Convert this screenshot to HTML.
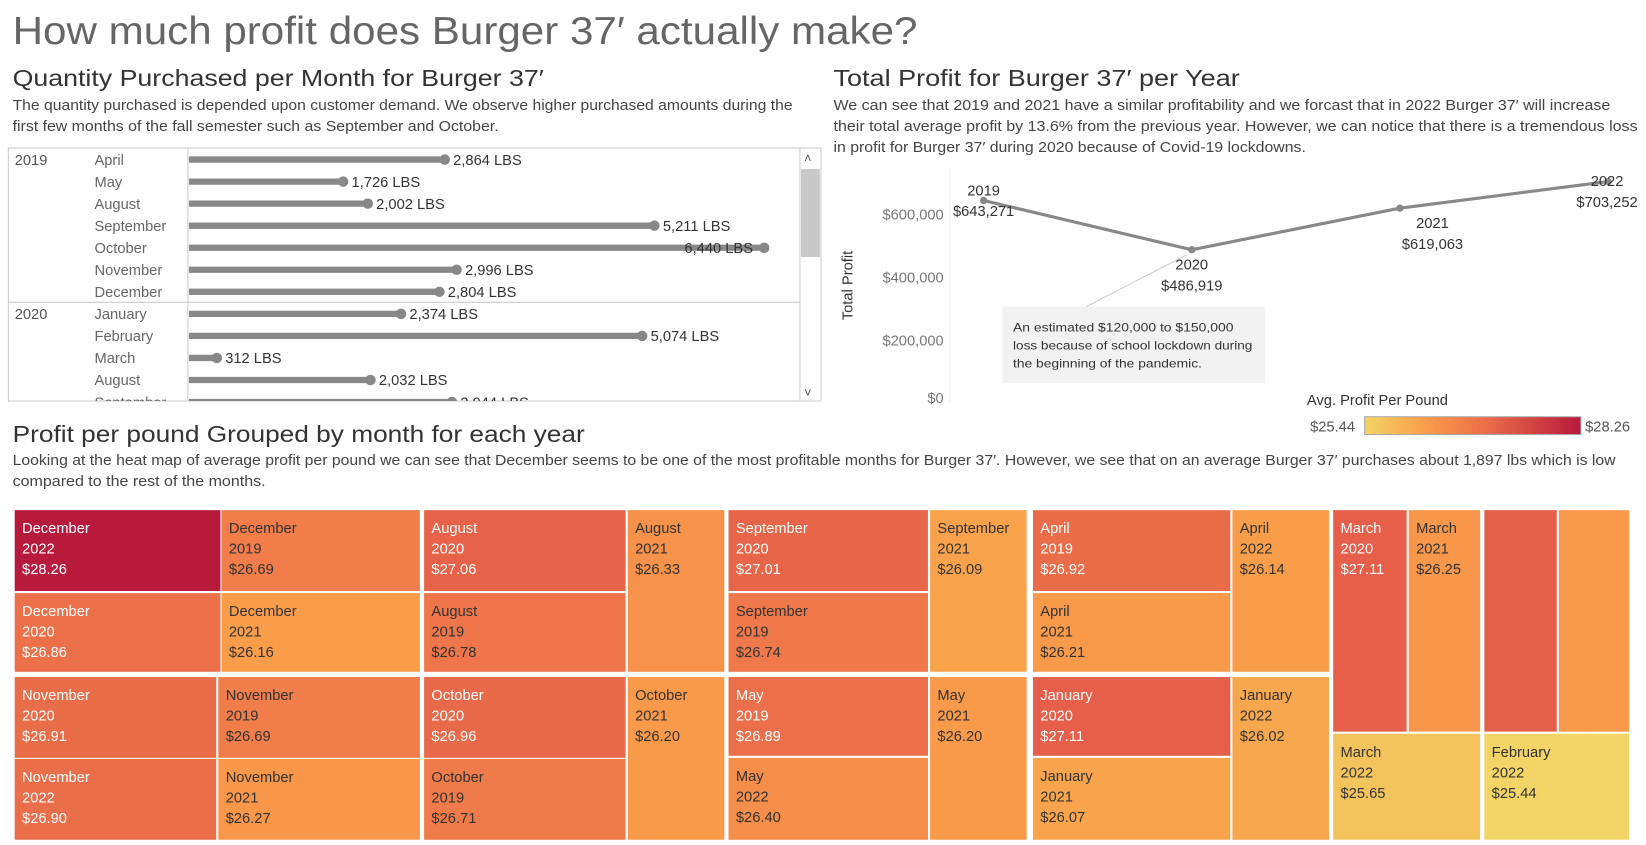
<!DOCTYPE html>
<html><head><meta charset="utf-8"><style>
html,body{margin:0;padding:0;background:#fff;width:1646px;height:845px;overflow:hidden}
svg{display:block;font-family:"Liberation Sans",sans-serif}
</style></head><body>
<svg id="root" width="1646" height="845" viewBox="0 0 1568 805" preserveAspectRatio="none" xmlns="http://www.w3.org/2000/svg">
<text x="12" y="42" font-size="37" fill="#666" textLength="862" lengthAdjust="spacingAndGlyphs">How much profit does Burger 37′ actually make?</text>
<text x="12" y="82" font-size="22" fill="#333" textLength="506" lengthAdjust="spacingAndGlyphs">Quantity Purchased per Month for Burger 37′</text>
<g font-size="14" fill="#444" lengthAdjust="spacingAndGlyphs">
<text x="12" y="105" textLength="743" lengthAdjust="spacingAndGlyphs">The quantity purchased is depended upon customer demand. We observe higher purchased amounts during the</text>
<text x="12" y="125" textLength="463" lengthAdjust="spacingAndGlyphs">first few months of the fall semester such as September and October.</text></g>
<text x="794" y="82" font-size="22" fill="#333" textLength="387" lengthAdjust="spacingAndGlyphs">Total Profit for Burger 37′ per Year</text>
<g font-size="14" fill="#444">
<text x="794" y="105" textLength="740" lengthAdjust="spacingAndGlyphs">We can see that 2019 and 2021 have a similar profitability and we forcast that in 2022 Burger 37′ will increase</text>
<text x="794" y="125" textLength="766" lengthAdjust="spacingAndGlyphs">their total average profit by 13.6% from the previous year. However, we can notice that there is a tremendous loss</text>
<text x="794" y="145" textLength="450" lengthAdjust="spacingAndGlyphs">in profit for Burger 37′ during 2020 because of Covid-19 lockdowns.</text></g>

<defs><clipPath id="barclip"><rect x="8" y="141" width="754" height="241"/></clipPath>
<linearGradient id="grad" x1="0" x2="1"><stop offset="0" stop-color="#f3d466"/><stop offset="0.3" stop-color="#f99a4a"/><stop offset="0.55" stop-color="#ec6f4a"/><stop offset="1" stop-color="#b71a3c"/></linearGradient></defs>
<rect x="8" y="141" width="774" height="241" fill="#fff" stroke="#ccc"/>
<g id="bars" clip-path="url(#barclip)"></g>
<g>
<rect x="762" y="141" width="20" height="241" fill="#fff" stroke="#ccc"/>
<rect x="763" y="161" width="18" height="84" fill="#c8c8c8"/>
<text x="766" y="155" font-size="12" fill="#555">˄</text><text x="766" y="378" font-size="12" fill="#555">˅</text></g>

<g id="line"></g>
<g>
<line x1="1130" y1="243" x2="1035" y2="292" stroke="#ccc"/>
<rect x="955" y="292" width="250" height="73" fill="#f2f2f2"/>
<g font-size="11.5" fill="#333"><text x="965" y="316" textLength="210" lengthAdjust="spacingAndGlyphs">An estimated $120,000 to $150,000</text><text x="965" y="333" textLength="228" lengthAdjust="spacingAndGlyphs">loss because of school lockdown during</text><text x="965" y="350" textLength="180" lengthAdjust="spacingAndGlyphs">the beginning of the pandemic.</text></g></g>

<g>
<text x="1245" y="386" font-size="14" fill="#333">Avg. Profit Per Pound</text>
<text x="1248" y="411" font-size="14" fill="#555">$25.44</text>
<rect x="1300" y="397" width="206" height="17" fill="url(#grad)" stroke="#aaa"/>
<text x="1510" y="411" font-size="14" fill="#555">$28.26</text></g>

<text x="12" y="421" font-size="22" fill="#333" textLength="545" lengthAdjust="spacingAndGlyphs">Profit per pound Grouped by month for each year</text>
<g font-size="14" fill="#444">
<text x="12" y="443" textLength="1527" lengthAdjust="spacingAndGlyphs">Looking at the heat map of average profit per pound we can see that December seems to be one of the most profitable months for Burger 37′. However, we see that on an average Burger 37′ purchases about 1,897 lbs which is low</text>
<text x="12" y="463" textLength="241" lengthAdjust="spacingAndGlyphs">compared to the rest of the months.</text></g>
<g id="tree"></g>
</svg>
<script>
const NS='http://www.w3.org/2000/svg';
function mk(p,tag,attrs,txt){const e=document.createElementNS(NS,tag);for(const k in attrs)e.setAttribute(k,attrs[k]);if(txt!==undefined)e.textContent=txt;p.appendChild(e);return e;}

// ---- bar chart data ----
const barYears=['2019','2019','2019','2019','2019','2019','2019','2020','2020','2020','2020','2020'];
const barMonths=['April','May','August','September','October','November','December','January','February','March','August','September'];
const barValues=[2864,1726,2002,5211,6440,2996,2804,2374,5074,312,2032,2944];
const barMax=6440;
const bx=v=>180+v*548/barMax;
const by=i=>152+i*21;
const bars=document.getElementById('bars');
mk(bars,'line',{x1:179,y1:141,x2:179,y2:382,stroke:'#ccc'});
barValues.forEach((v,i)=>{
  const y=by(i);
  if(i===0||barYears[i]!==barYears[i-1]){
    if(i>0){mk(bars,'line',{x1:8,y1:y-11,x2:762,y2:y-11,stroke:'#ccc'});}
    const t=mk(bars,'text',{x:14,y:y+5,'font-size':14,fill:'#555'},barYears[i]);
    
    
  }
  const m=mk(bars,'text',{x:90,y:y+5,'font-size':14,fill:'#666'},barMonths[i]);
  
  
  const b=mk(bars,'line',{x1:180,y1:y,x2:bx(v),y2:y,stroke:'#888','stroke-width':6});
  
  
  const d=mk(bars,'circle',{cx:bx(v),cy:y,r:5,fill:'#888'});
  
  
  const lx=v===barMax?bx(v)-76:bx(v)+8;
  const lb=mk(bars,'text',{x:lx,y:y+5,'font-size':14,fill:'#333'},v.toLocaleString('en-US')+' LBS');
  
  
});

// ---- line chart data ----
const lineYears=['2019','2020','2021','2022'];
const lineValues=[643271,486919,619063,703252];
const yTicks=[0,200000,400000,600000];
const lx=i=>937+i*198.3;
const ly=v=>384-v*0.0003;
const lg=document.getElementById('line');
mk(lg,'line',{x1:905,y1:160,x2:905,y2:384,stroke:'#eee'});
yTicks.forEach(t=>{
  const yy=Math.min(ly(t),379)+5;
  const e=mk(lg,'text',{x:899,y:yy,'font-size':14,fill:'#777','text-anchor':'end'},'$'+t.toLocaleString('en-US'));
  
  
});
const yt=mk(lg,'text',{x:0,y:0,'font-size':14,fill:'#333','text-anchor':'middle',transform:'translate(812,272) rotate(-90)'},'Total Profit');


const pl=mk(lg,'polyline',{points:lineValues.map((v,i)=>lx(i)+','+ly(v)).join(' '),fill:'none',stroke:'#888','stroke-width':3});


lineValues.forEach((v,i)=>{
  const c=mk(lg,'circle',{cx:lx(i),cy:ly(v),r:3.5,fill:'#888'});
  
  
  let tx=lx(i),ty;
  if(i===0){ty=ly(v)-5;} else if(i===3){ty=ly(v)+4;tx=lx(i)-1;} else {ty=ly(v)+19;}
  if(i===2)tx=lx(i)+31;
  const a=mk(lg,'text',{x:tx,y:ty,'font-size':14,fill:'#333','text-anchor':'middle'},lineYears[i]);
  
  
  const b=mk(lg,'text',{x:tx,y:ty+20,'font-size':14,fill:'#333','text-anchor':'middle'},'$'+v.toLocaleString('en-US'));
  
  
});

// ---- treemap data ----
const tmMonths=['December','December','December','December','November','November','November','November','August','August','August','October','October','October','September','September','September','May','May','May','April','April','April','January','January','January','March','March','March','February','February','February'];
const tmYears=['2022','2019','2020','2021','2020','2019','2022','2021','2020','2019','2021','2020','2019','2021','2020','2019','2021','2019','2022','2021','2019','2021','2022','2020','2021','2022','2020','2021','2022','2020','2021','2022'];
const tmValues=[28.26,26.69,26.86,26.16,26.91,26.69,26.90,26.27,27.06,26.78,26.33,26.96,26.71,26.20,27.01,26.74,26.09,26.89,26.40,26.20,26.92,26.21,26.14,27.11,26.07,26.02,27.11,26.25,25.65,27.10,26.20,25.44];
const tmLabelShown=[1,1,1,1,1,1,1,1,1,1,1,1,1,1,1,1,1,1,1,1,1,1,1,1,1,1,1,1,1,0,0,1];
// layout geometry (x0,y0,x1,y1)
const tmRects=[[14,486,210,563],[211,486,400,563],[14,565,210,640],[211,565,400,640],
[14,645,206,722],[208,645,400,722],[14,723,206,800],[208,723,400,800],
[404,486,596,563],[404,565,596,640],[598,486,690,640],[404,645,596,722],[404,723,596,800],[598,645,690,800],
[694,486,884,563],[694,565,884,640],[886,486,978,640],[694,645,884,720],[694,722,884,800],[886,645,978,800],
[984,486,1172,563],[984,565,1172,640],[1174,486,1266,640],[984,645,1172,720],[984,722,1172,800],[1174,645,1266,800],
[1270,486,1340,697],[1342,486,1410,697],[1270,699,1410,800],[1414,486,1483,697],[1485,486,1552,697],[1414,699,1552,800]];
const stops=[[25.44,[243,212,102]],[25.9,[246,176,79]],[26.2,[249,154,74]],[26.7,[240,124,74]],[27.1,[229,96,74]],[28.26,[183,26,60]]];
function col(v){
  for(let i=1;i<stops.length;i++){if(v<=stops[i][0]||i===stops.length-1){const a=stops[i-1],b=stops[i];let t=(v-a[0])/(b[0]-a[0]);t=Math.max(0,Math.min(1,t));return 'rgb('+a[1].map((c,k)=>Math.round(c+(b[1][k]-c)*t)).join(',')+')';}}
}
const tg=document.getElementById('tree');
tmValues.forEach((v,i)=>{
  const r=tmRects[i];
  const g=mk(tg,'g',{});
  
  
  mk(g,'rect',{x:r[0],y:r[1],width:r[2]-r[0],height:r[3]-r[1],fill:col(v)});
  if(tmLabelShown[i]){
    const fc=v>26.8?'#fff':'#333';
    [tmMonths[i],tmYears[i],'$'+v.toFixed(2)].forEach((s,k)=>mk(g,'text',{x:r[0]+7,y:r[1]+22+k*19.5,'font-size':14,fill:fc},s));
  }
});
</script>
</body></html>
